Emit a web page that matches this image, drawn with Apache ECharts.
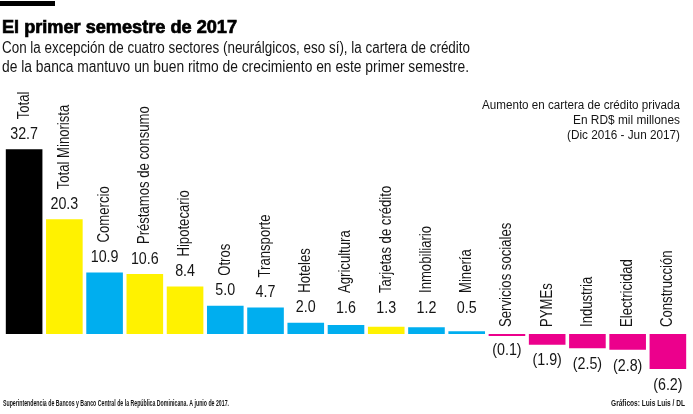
<!DOCTYPE html>
<html><head><meta charset="utf-8">
<script src="https://cdn.jsdelivr.net/npm/echarts@6/dist/echarts.min.js"></script>
<style>html,body{margin:0;padding:0;background:#fff}#c{width:693px;height:414px}</style>
</head><body><div id="c"></div>
<script>
// ---- data ----
const categories = ['Total','Total Minorista','Comercio','Préstamos de consumo','Hipotecario','Otros','Transporte','Hoteles','Agricultura','Tarjetas de crédito','Inmobiliario','Minería','Servicios sociales','PYMEs','Industria','Electricidad','Construcción'];
const values = [32.7,20.3,10.9,10.6,8.4,5.0,4.7,2.0,1.6,1.3,1.2,0.5,-0.1,-1.9,-2.5,-2.8,-6.2];
const groups = ['total','minorista','sector','minorista','minorista','sector','sector','sector','sector','minorista','sector','sector','sector','sector','sector','sector','sector'];
const titleText = 'El primer semestre de 2017';
const subtitleLines = ['Con la excepción de cuatro sectores (neurálgicos, eso sí), la cartera de crédito','de la banca mantuvo un buen ritmo de crecimiento en este primer semestre.'];
const noteLines = ['Aumento en cartera de crédito privada','En RD$ mil millones','(Dic 2016 - Jun 2017)'];
const sourceText = 'Superintendencia de Bancos y Banco Central de la República Dominicana. A junio de 2017.';
const creditText = 'Gráficos: Luis Luis / DL';

// ---- styles ----
const COLORS = {total:'#000000', minorista:'#FFF200', sector:'#00AEEF', negative:'#EC008C'};
const FAM = "'Liberation Sans', Arial, sans-serif";
const TXT = '#151515';
const mctx = document.createElement('canvas').getContext('2d');
function fit(text, font, target){ mctx.font = font; return target / mctx.measureText(text).width; }
function fmt(v){ return v < 0 ? '(' + Math.abs(v).toFixed(1) + ')' : v.toFixed(1); }

const chart = echarts.init(document.getElementById('c'), null, {renderer:'canvas'});

const titleFont = 'bold 18px ' + FAM;
const subFont = '16px ' + FAM;
const noteFont = '12px ' + FAM;
const footFont = 'bold 8.5px ' + FAM;
const subWidths = [468, 467];
const noteWidths = [198, 107, 113];

const graphics = [
  {type:'rect', left:0, top:1, shape:{width:55, height:5}, style:{fill:'#000'}},
  {type:'text', x:2, y:28, scaleX:fit(titleText, titleFont, 235),
   style:{text:titleText, font:titleFont, fill:'#000', stroke:'#000', lineWidth:0.7, align:'left', verticalAlign:'middle'}},
  ...subtitleLines.map((t,k)=>({type:'text', x:2, y:49 + k*18.5, scaleX:fit(t, subFont, subWidths[k]),
    style:{text:t, font:subFont, fill:TXT, align:'left', verticalAlign:'middle'}})),
  ...noteLines.map((t,k)=>({type:'text', x:680, y:106 + k*15, scaleX:fit(t, noteFont, noteWidths[k]),
    style:{text:t, font:noteFont, fill:TXT, align:'right', verticalAlign:'middle'}})),
  {type:'text', x:3, y:403.5, scaleX:fit(sourceText, footFont, 226),
   style:{text:sourceText, font:footFont, fill:TXT, align:'left', verticalAlign:'middle'}},
  {type:'text', x:685, y:403.5, scaleX:fit(creditText, footFont, 74),
   style:{text:creditText, font:footFont, fill:TXT, align:'right', verticalAlign:'middle'}}
];

const barData = values.map((v,i)=>({
  value:v,
  itemStyle:{color: v < 0 ? COLORS.negative : COLORS[groups[i]]}
}));

chart.setOption({
  animation:false,
  backgroundColor:'#fff',
  grid:{left:4, right:5, top:108, bottom:23.5},
  xAxis:{type:'category', data:categories, show:false},
  yAxis:{type:'value', min:-10, max:40, show:false},
  graphic:graphics,
  series:[
    {type:'bar', data:barData, barWidth:'91%', barMinHeight:2, silent:true},
    {type:'custom', z:5, silent:true,
     data: values.map((v,i)=>[i,v]),
     renderItem:function(params, api){
       const i = api.value(0), v = api.value(1);
       const base = api.coord([i,0]);
       const end = api.coord([i,v]);
       const name = categories[i];
       const ch = [];
       if (v >= 0) {
         const ref = Math.min(end[1], base[1] - 11);
         ch.push({type:'text', x:base[0], y:ref - 15, scaleX:0.84,
           style:{text:fmt(v), font:'17px ' + FAM, fill:TXT, align:'center', verticalAlign:'middle'}});
         ch.push({type:'text', x:base[0], y:ref - 30, rotation:Math.PI/2, scaleX:0.82,
           style:{text:name, font:'16px ' + FAM, fill:TXT, align:'left', verticalAlign:'middle'}});
       } else {
         const bottom = Math.max(end[1], base[1] + 0.6);
         ch.push({type:'text', x:base[0], y:bottom + 16, scaleX:0.84,
           style:{text:fmt(v), font:'17px ' + FAM, fill:TXT, align:'center', verticalAlign:'middle'}});
         ch.push({type:'text', x:base[0], y:base[1] - 7, rotation:Math.PI/2, scaleX:0.82,
           style:{text:name, font:'16px ' + FAM, fill:TXT, align:'left', verticalAlign:'middle'}});
       }
       return {type:'group', children:ch};
     }
    }
  ]
});
</script></body></html>
